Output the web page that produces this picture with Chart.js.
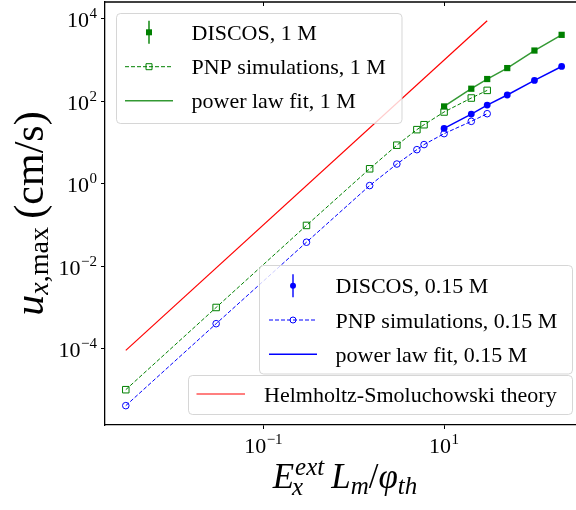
<!DOCTYPE html>
<html>
<head>
<meta charset="utf-8">
<script src="https://cdn.jsdelivr.net/npm/chart.js@4.4.1/dist/chart.umd.min.js"></script>
<style>
  body { margin: 0; background: #fff; }
  #wrap { width: 576px; height: 510px; }
</style>
</head>
<body>
<div id="wrap"><canvas id="chart" width="576" height="510"></canvas></div>
<script>
// data
const pnpX = [0.003, 0.03, 0.3, 1.5, 3, 5, 6, 10, 20, 30];
const pnp1M = [1.0e-5, 9.9e-4, 0.097, 2.3, 8.6, 20.5, 27, 55, 120, 184];
const pnp015M = [4.1e-6, 4.0e-4, 0.038, 0.9, 3.0, 6.7, 8.9, 16.4, 32.6, 50];
const discosX = [10, 20, 30, 50, 100, 200];
const discos1M = [75, 202, 347, 640, 1706, 4100];
const discos015M = [22, 49, 81, 142, 321, 700];
const fit1M = [75, 202, 347, 640, 1706, 4100];
const fit015M = [22, 49, 81, 142, 321, 700];
const hsX = [0.003, 30];
const hsY = [9e-5, 9e3];
const xTicks = [0.1, 10];
const yTicks = [1e-4, 1e-2, 1, 1e2, 1e4];
const legend1M = ['DISCOS, 1 M', 'PNP simulations, 1 M', 'power law fit, 1 M'];
const legend015M = ['DISCOS, 0.15 M', 'PNP simulations, 0.15 M', 'power law fit, 0.15 M'];
const legendHS = 'Helmholtz-Smoluchowski theory';

const GREEN = '#008000';
const GREEN_FIT = 'rgba(0,128,0,0.8)';
const BLUE = '#0000ff';
const RED = '#ff0000';
const SERIF = '"Liberation Serif", "DejaVu Serif", serif';

const pts = (xs, ys) => xs.map((x, i) => ({x: x, y: ys[i]}));

// rich text: parts are {t, f, dy} or {stack: [..]}
function partWidth(ctx, p) {
  if (p.stack) return Math.max(...p.stack.map(s => partWidth(ctx, s)));
  ctx.font = p.f;
  return ctx.measureText(p.t).width + (p.dx || 0);
}
function drawRich(ctx, parts, x, y, align) {
  let total = parts.reduce((a, p) => a + partWidth(ctx, p), 0);
  let cx = align === 'center' ? x - total / 2 : align === 'right' ? x - total : x;
  ctx.textAlign = 'left';
  ctx.textBaseline = 'alphabetic';
  parts.forEach(p => {
    const list = p.stack ? p.stack : [p];
    list.forEach(s => {
      ctx.font = s.f;
      ctx.fillText(s.t, cx + (s.dx || 0), y + (s.dy || 0));
    });
    cx += partWidth(ctx, p);
  });
}

function tickLabel(exp) {
  const e = exp < 0 ? '\u2212' + (-exp) : '' + exp;
  return [
    {t: '10', f: '22px ' + SERIF},
    {t: e, f: '15px ' + SERIF, dy: -9, dx: 0.5}
  ];
}

function legendBox(ctx, x0, y0, x1, y1) {
  const r = 4;
  ctx.beginPath();
  ctx.moveTo(x0 + r, y0);
  ctx.arcTo(x1, y0, x1, y1, r);
  ctx.arcTo(x1, y1, x0, y1, r);
  ctx.arcTo(x0, y1, x0, y0, r);
  ctx.arcTo(x0, y0, x1, y0, r);
  ctx.closePath();
  ctx.fillStyle = 'rgba(255,255,255,0.8)';
  ctx.fill();
  ctx.strokeStyle = 'rgba(204,204,204,0.8)';
  ctx.lineWidth = 1;
  ctx.stroke();
}

function marker(ctx, style, x, y, color, filled) {
  ctx.beginPath();
  if (style === 'rect') ctx.rect(x - 3, y - 3, 6, 6);
  else ctx.arc(x, y, 3, 0, 2 * Math.PI);
  ctx.lineWidth = 1;
  ctx.setLineDash([]);
  if (filled) { ctx.fillStyle = color; ctx.fill(); }
  else { ctx.fillStyle = '#fff'; ctx.strokeStyle = color; ctx.stroke(); }
}

function hline(ctx, x0, x1, y, color, dash, lw) {
  ctx.beginPath();
  ctx.setLineDash(dash);
  ctx.moveTo(x0, y);
  ctx.lineTo(x1, y);
  ctx.strokeStyle = color;
  ctx.lineWidth = lw;
  ctx.stroke();
  ctx.setLineDash([]);
}

function legendGroup(ctx, labels, color, fitColor, style, hx0, hx1, rows, tx) {
  const cx = (hx0 + hx1) / 2;
  // errorbar entry
  ctx.beginPath();
  ctx.moveTo(cx, rows[0] - 11.5);
  ctx.lineTo(cx, rows[0] + 11.5);
  ctx.strokeStyle = color;
  ctx.lineWidth = 1.4;
  ctx.stroke();
  marker(ctx, style, cx, rows[0], color, true);
  // pnp entry
  hline(ctx, hx0, hx1, rows[1], color, [4, 2], 1);
  ctx.beginPath();
  if (style === 'rect') ctx.rect(cx - 3, rows[1] - 3, 6, 6);
  else ctx.arc(cx, rows[1], 3, 0, 2 * Math.PI);
  ctx.strokeStyle = color;
  ctx.lineWidth = 1;
  ctx.stroke();
  // fit entry
  hline(ctx, hx0, hx1, rows[2], fitColor, [], 1.5);
  ctx.fillStyle = '#000';
  ctx.font = '22px ' + SERIF;
  ctx.textAlign = 'left';
  ctx.textBaseline = 'alphabetic';
  labels.forEach((l, i) => ctx.fillText(l, tx, rows[i] + 7.5));
}

const decor = {
  id: 'decor',
  afterDraw(chart) {
    const ctx = chart.ctx;
    const xs = chart.scales.x, ys = chart.scales.y;
    const area = chart.chartArea;
    ctx.save();
    // top spine with small ticks
    ctx.beginPath();
    ctx.moveTo(area.left, area.top);
    ctx.lineTo(area.right, area.top);
    ctx.strokeStyle = '#000';
    ctx.lineWidth = 1.3;
    ctx.stroke();
    ctx.lineWidth = 1;
    xTicks.forEach(v => {
      const px = Math.round(xs.getPixelForValue(v)) + 0.5;
      ctx.beginPath();
      ctx.moveTo(px, area.top);
      ctx.lineTo(px, area.top + 4);
      ctx.stroke();
    });

    // tick labels
    ctx.fillStyle = '#000';
    xTicks.forEach(v => {
      drawRich(ctx, tickLabel(Math.round(Math.log10(v))), xs.getPixelForValue(v), 453, 'center');
    });
    yTicks.forEach(v => {
      drawRich(ctx, tickLabel(Math.round(Math.log10(v))), 97, ys.getPixelForValue(v) + 8.5, 'right');
    });

    // x title
    const it = s => 'italic ' + s + 'px ' + SERIF;
    drawRich(ctx, [
      {t: 'E', f: it(35)},
      {stack: [{t: 'ext', f: it(25), dy: -13, dx: 1}, {t: 'x', f: it(25), dy: 7, dx: -2}]},
      {t: '\u2009L', f: it(35)},
      {t: 'm', f: it(25), dy: 6},
      {t: '/', f: '35px ' + SERIF},
      {t: '\u03c6', f: it(35)},
      {t: 'th', f: it(25), dy: 6}
    ], 345, 488, 'center');

    // y title
    ctx.save();
    ctx.translate(43, (area.top + area.bottom) / 2);
    ctx.rotate(-Math.PI / 2);
    drawRich(ctx, [
      {t: 'u', f: it(42)},
      {t: 'x', f: it(28), dy: 5},
      {t: ',max', f: '28px ' + SERIF, dy: 5},
      {t: '\u2009(cm/s)', f: '42px ' + SERIF}
    ], 0, 0, 'center');
    ctx.restore();

    // legends
    legendBox(ctx, 116.5, 13.5, 402, 123.5);
    legendGroup(ctx, legend1M, GREEN, GREEN_FIT, 'rect', 125, 173, [32.3, 66.7, 100.7], 191.5);
    legendBox(ctx, 188.5, 375.5, 572.5, 414.5);
    hline(ctx, 196.5, 245, 394, RED, [], 1.2);
    ctx.fillStyle = '#000';
    ctx.font = '22px ' + SERIF;
    ctx.fillText(legendHS, 264, 394 + 7.5);
    legendBox(ctx, 259.5, 265.5, 572.5, 374);
    legendGroup(ctx, legend015M, BLUE, BLUE, 'circle', 269, 317, [285.7, 320, 354.3], 335.5);
    ctx.restore();
  }
};

const axisCommon = {
  type: 'logarithmic',
  grid: {display: true, drawOnChartArea: false, drawTicks: true, tickLength: 4, color: '#000', lineWidth: 1},
  border: {display: true, color: '#000', width: 1.3},
  ticks: {display: false}
};

new Chart(document.getElementById('chart'), {
  type: 'scatter',
  data: {
    datasets: [
      {label: legend1M[0], data: pts(discosX, discos1M), showLine: false, pointStyle: 'rect',
        pointRadius: 4.4, backgroundColor: GREEN, borderColor: GREEN, pointBorderWidth: 0},
      {label: legend015M[0], data: pts(discosX, discos015M), showLine: false, pointStyle: 'circle',
        pointRadius: 3.4, backgroundColor: BLUE, borderColor: BLUE, pointBorderWidth: 0},
      {label: legend1M[2], data: pts(discosX, fit1M), showLine: true, pointRadius: 0,
        borderColor: GREEN_FIT, borderWidth: 1.5},
      {label: legend015M[2], data: pts(discosX, fit015M), showLine: true, pointRadius: 0,
        borderColor: BLUE, borderWidth: 1.5},
      {label: legend1M[1], data: pts(pnpX, pnp1M), showLine: true, borderDash: [4, 2], borderWidth: 1,
        borderColor: GREEN, pointStyle: 'rect', pointRadius: 4.6, pointBorderWidth: 1,
        pointBackgroundColor: 'rgba(0,0,0,0)', pointBorderColor: GREEN},
      {label: legend015M[1], data: pts(pnpX, pnp015M), showLine: true, borderDash: [4, 2], borderWidth: 1,
        borderColor: BLUE, pointStyle: 'circle', pointRadius: 3.3, pointBorderWidth: 1,
        pointBackgroundColor: 'rgba(0,0,0,0)', pointBorderColor: BLUE},
      {label: legendHS, data: pts(hsX, hsY), showLine: true, pointRadius: 0,
        borderColor: RED, borderWidth: 1.2}
    ]
  },
  options: {
    responsive: false,
    animation: false,
    layout: {autoPadding: false, padding: {top: 2, right: 0, left: 0, bottom: 0}},
    plugins: {legend: {display: false}, tooltip: {enabled: false}},
    scales: {
      x: Object.assign({}, axisCommon, {
        position: 'bottom',
        min: Math.pow(10, -2.753), max: Math.pow(10, 2.46),
        afterBuildTicks: s => { s.ticks = xTicks.map(v => ({value: v})); },
        afterFit: s => { s.height = 85; }
      }),
      y: Object.assign({}, axisCommon, {
        position: 'left',
        min: Math.pow(10, -5.857), max: Math.pow(10, 4.41),
        afterBuildTicks: s => { s.ticks = yTicks.map(v => ({value: v})); },
        afterFit: s => { s.width = 105; }
      })
    }
  },
  plugins: [decor]
});
</script>
</body>
</html>
